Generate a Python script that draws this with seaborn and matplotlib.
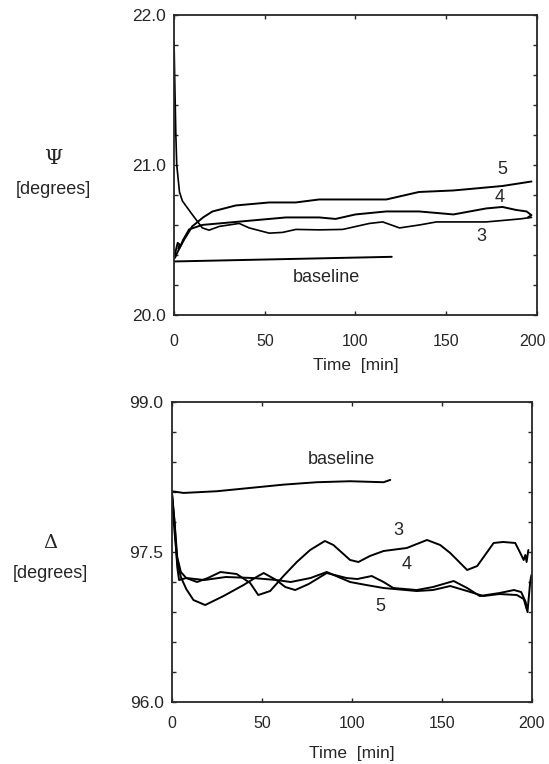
import matplotlib
matplotlib.use("Agg")
import matplotlib.pyplot as plt
import matplotlib.transforms as mtransforms
import seaborn as sns
import numpy as np
import pandas as pd

# ---------------- data: Psi (top panel) ----------------
psi3_t = [0, 0.5, 1, 1.5, 3, 4.6, 10, 15.6, 19.3, 24.9, 35.9, 41.4, 52.5, 59.8, 67.2, 80, 93,
          107.7, 115, 124.3, 135.4, 144.6, 155.6, 172, 181.4, 190.6, 197]
psi3_v = [21.82, 21.5, 21.2, 21.0, 20.82, 20.76, 20.67, 20.58, 20.565, 20.59, 20.61, 20.58, 20.545,
          20.55, 20.57, 20.567, 20.57, 20.61, 20.62, 20.58, 20.60, 20.62, 20.62, 20.62, 20.63, 20.64, 20.65]

psi4_t = [0.5, 1, 2, 3, 2.5, 4, 5, 8.3, 15.6, 24.9, 43.3, 61.7, 80, 89, 100, 117, 135, 144.6, 154,
          163, 172, 181, 188.5, 194.3, 197, 195]
psi4_v = [20.40, 20.43, 20.48, 20.47, 20.44, 20.47, 20.50, 20.57, 20.60, 20.61, 20.63, 20.65, 20.65,
          20.64, 20.67, 20.69, 20.69, 20.68, 20.67, 20.69, 20.71, 20.72, 20.70, 20.69, 20.665, 20.65]

psi5_t = [0.5, 2, 5, 10, 16, 21.2, 34, 52.5, 67, 80, 98.3, 117, 135, 153.8, 163, 172, 181, 197]
psi5_v = [20.38, 20.42, 20.49, 20.59, 20.65, 20.69, 20.73, 20.75, 20.75, 20.77, 20.77, 20.77,
          20.82, 20.83, 20.84, 20.85, 20.86, 20.89]

psi_base_t = [0, 120]
psi_base_v = [20.356, 20.387]

# ---------------- data: Delta (bottom panel) ----------------
del3_t = [0, 1.5, 3, 5, 8, 14, 20, 27, 36, 43.5, 48, 54.6, 62, 69.4, 76.8, 85, 89.7, 99, 103.6,
          110, 117.6, 130.5, 141.7, 149, 154.6, 164, 169.6, 178.7, 184, 190.7, 193.5, 195.4,
          196.3, 197, 198]
del3_v = [98.10, 97.80, 97.45, 97.30, 97.24, 97.20, 97.24, 97.30, 97.28, 97.19, 97.07, 97.11,
          97.26, 97.40, 97.52, 97.61, 97.57, 97.42, 97.40, 97.46, 97.51, 97.54, 97.62, 97.57,
          97.49, 97.32, 97.36, 97.59, 97.60, 97.59, 97.49, 97.42, 97.47, 97.40, 97.52]

del4_t = [0, 1.5, 3, 5, 8, 12, 18.5, 28.7, 39.8, 47, 51, 58, 63, 68.5, 76, 86, 97, 103, 111,
          117.6, 123, 136, 145, 156.5, 164, 171, 182, 190, 194, 196.5, 197.5, 199, 199.7]
del4_v = [98.10, 97.70, 97.40, 97.25, 97.13, 97.02, 96.97, 97.06, 97.17, 97.25, 97.29, 97.22,
          97.15, 97.12, 97.18, 97.29, 97.24, 97.23, 97.26, 97.20, 97.14, 97.12, 97.15, 97.21,
          97.14, 97.06, 97.09, 97.12, 97.10, 97.00, 96.90, 97.20, 97.27]

del5_t = [0, 1.5, 3, 4, 8, 18, 30, 45, 58, 66, 77, 86, 99, 108, 117.6, 136, 145, 154.6, 164,
          173, 182, 191.6, 195.4, 197.2]
del5_v = [98.10, 97.80, 97.35, 97.22, 97.24, 97.22, 97.25, 97.24, 97.22, 97.20, 97.24, 97.30,
          97.20, 97.17, 97.14, 97.11, 97.12, 97.16, 97.11, 97.06, 97.08, 97.07, 97.03, 96.92]

del_base_t = [0, 6.5, 25, 43.5, 62, 80.5, 99, 117.6, 121.3]
del_base_v = [98.107, 98.09, 98.107, 98.14, 98.173, 98.197, 98.207, 98.197, 98.22]

x_ticks = [0, 50, 100, 150, 200]
psi_ticks = [20.0, 20.2, 20.4, 20.6, 20.8, 21.0, 21.2, 21.4, 21.6, 21.8, 22.0]
psi_ticklabels = ["20.0", "", "", "", "", "21.0", "", "", "", "", "22.0"]
del_ticks = [96.0, 96.3, 96.6, 96.9, 97.2, 97.5, 97.8, 98.1, 98.4, 98.7, 99.0]
del_ticklabels = ["96.0", "", "", "", "", "97.5", "", "", "", "", "99.0"]

# ---------------- style ----------------
sns.set_style("ticks")
plt.rcParams['font.family'] = ['Liberation Sans', 'DejaVu Sans']
plt.rcParams['font.size'] = 12

fig = plt.figure(figsize=(5.49, 7.64), dpi=100)
ax1 = fig.add_axes([0.317, 0.588, 0.661, 0.392])
ax2 = fig.add_axes([0.313, 0.081, 0.656, 0.393])

def draw(ax, t, v, lw=1.4):
    df = pd.DataFrame({"t": t, "v": v})
    sns.lineplot(data=df, x="t", y="v", ax=ax, color="black", lw=lw,
                 estimator=None, sort=False)

draw(ax1, psi3_t, psi3_v, 1.2)
draw(ax1, psi4_t, psi4_v)
draw(ax1, psi5_t, psi5_v)
draw(ax1, psi_base_t, psi_base_v)

draw(ax2, del3_t, del3_v)
draw(ax2, del4_t, del4_v)
draw(ax2, del5_t, del5_v)
draw(ax2, del_base_t, del_base_v)

for ax in (ax1, ax2):
    ax.set_xlim(0, 200)
    ax.set_xticks(x_ticks)
    ax.set_xticklabels([str(x) for x in x_ticks], fontsize=11.5)
    ax.set_ylabel("")
    ax.tick_params(direction="in", top=True, right=True, length=3, width=1)
    ax.tick_params(axis="y", pad=6)
    for s in ax.spines.values():
        s.set_linewidth(1.3)
        s.set_visible(True)

ax1.tick_params(axis="x", pad=14)
ax1.set_xlabel("Time  [min]", labelpad=6, fontsize=12.5)
ax2.tick_params(axis="x", pad=10)
ax2.set_xlabel("Time  [min]", labelpad=11, fontsize=12.5)

# keep the last top-panel tick label inside the figure
lbl = ax1.get_xticklabels()[-1]
lbl.set_transform(lbl.get_transform() + mtransforms.ScaledTranslation(-4 / 100, 0, fig.dpi_scale_trans))

ax1.set_yticks(psi_ticks)
ax1.set_yticklabels(psi_ticklabels, fontsize=12.5)
ax1.set_ylim(20.0, 22.0)

ax2.set_yticks(del_ticks)
ax2.set_yticklabels(del_ticklabels, fontsize=12.5)
ax2.set_ylim(96.0, 99.0)

# curve labels
lab = 13
ax1.text(181.2, 20.97, "5", ha="center", va="center", fontsize=lab)
ax1.text(179.6, 20.78, "4", ha="center", va="center", fontsize=lab)
ax1.text(169.5, 20.52, "3", ha="center", va="center", fontsize=lab)
ax1.text(83.9, 20.25, "baseline", ha="center", va="center", fontsize=lab)

ax2.text(94.4, 98.42, "baseline", ha="center", va="center", fontsize=lab)
ax2.text(126, 97.71, "3", ha="center", va="center", fontsize=lab)
ax2.text(130.6, 97.38, "4", ha="center", va="center", fontsize=lab)
ax2.text(115.7, 96.96, "5", ha="center", va="center", fontsize=lab)

# y axis labels
fig.text(53 / 549, 1 - 158 / 764, "Ψ", ha="center", va="center", fontsize=15,
         family=["DejaVu Serif"])
fig.text(53 / 549, 1 - 190 / 764, "[degrees]", ha="center", va="center", fontsize=13)
fig.text(50 / 549, 1 - 543 / 764, "Δ", ha="center", va="center", fontsize=14,
         family=["DejaVu Serif"])
fig.text(50 / 549, 1 - 573 / 764, "[degrees]", ha="center", va="center", fontsize=13)

fig.savefig("out.png", dpi=100)
